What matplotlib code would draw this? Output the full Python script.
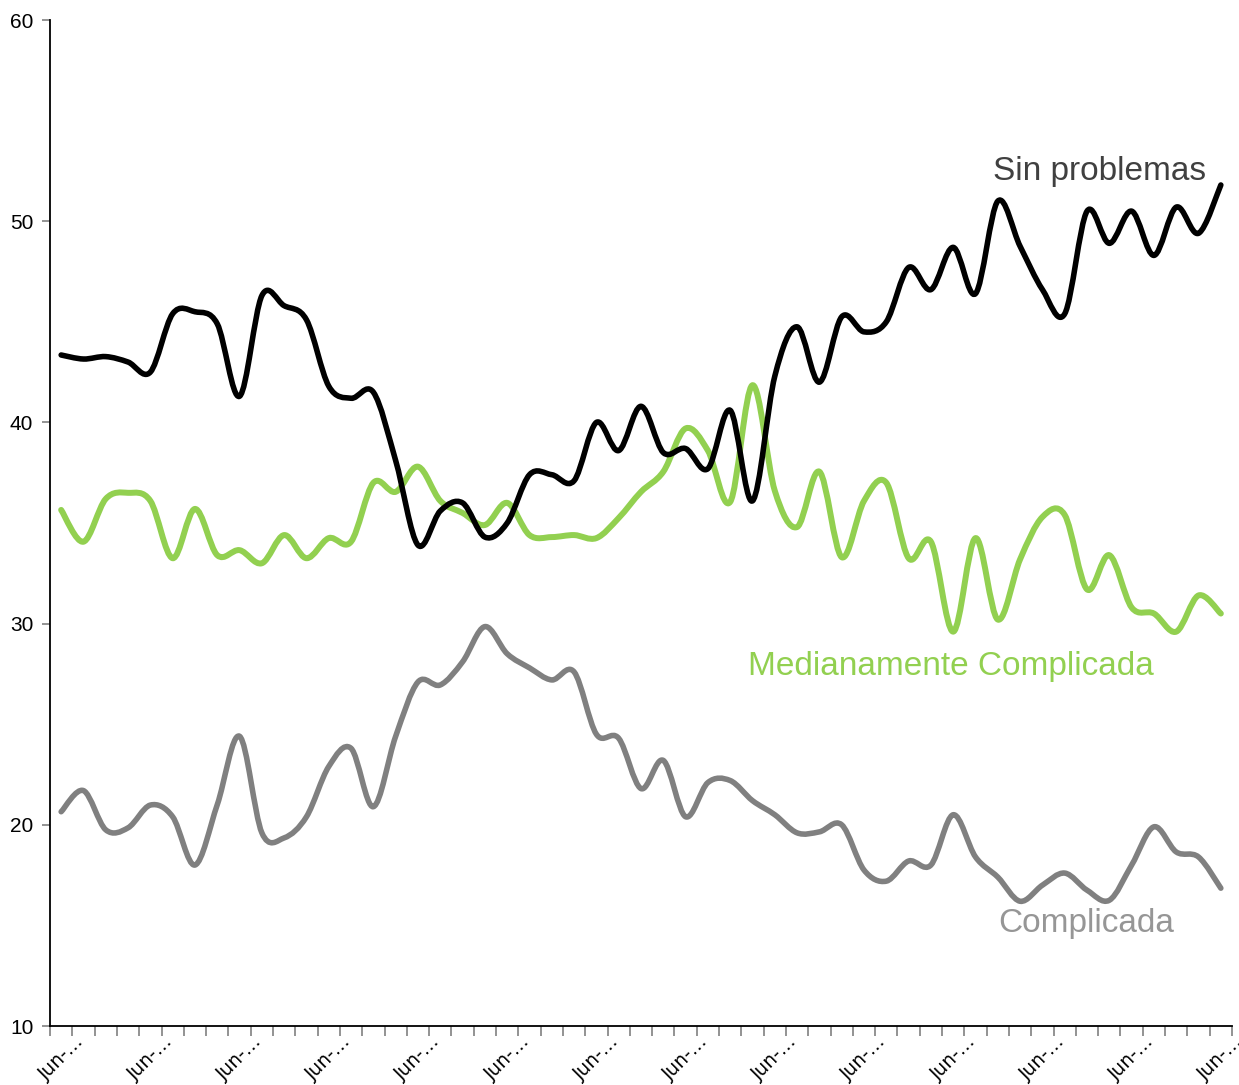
import matplotlib
matplotlib.use("Agg")
import matplotlib.pyplot as plt
from matplotlib.path import Path
from matplotlib.patches import PathPatch
from matplotlib.ticker import FixedLocator

plt.rcParams["font.family"] = ["Liberation Sans", "DejaVu Sans"]

# quarterly series, one label every 4 points
tick_labels = ["Jun-…"] * 14

sin_problemas = [43.35, 43.15, 43.27, 43.0, 42.5, 45.4, 45.5, 44.9, 41.3, 46.3,
                 45.8, 45.1, 41.8, 41.2, 41.5, 38.1, 33.9, 35.6, 36.0, 34.3,
                 35.0, 37.4, 37.4, 37.1, 40.0, 38.6, 40.8, 38.5, 38.7, 37.7,
                 40.6, 36.1, 42.3, 44.75, 42.0, 45.25, 44.5, 45.0, 47.7, 46.6,
                 48.7, 46.4, 51.0, 48.75, 46.6, 45.4, 50.5, 48.9, 50.5, 48.3,
                 50.7, 49.4, 51.8]

medianamente = [35.65, 34.07, 36.2, 36.5, 36.1, 33.25, 35.7, 33.4, 33.65, 33.0,
                34.4, 33.25, 34.25, 34.07, 37.0, 36.55, 37.8, 36.1, 35.5, 34.9,
                36.0, 34.4, 34.3, 34.4, 34.25, 35.25, 36.55, 37.55, 39.7, 38.6,
                36.05, 41.85, 36.6, 34.8, 37.55, 33.3, 36.1, 37.0, 33.25, 34.07,
                29.6, 34.25, 30.2, 33.2, 35.3, 35.4, 31.7, 33.4, 30.8, 30.5,
                29.6, 31.4, 30.5]

complicada = [20.65, 21.7, 19.75, 19.85, 20.98, 20.4, 18.0, 21.0, 24.4, 19.6,
              19.35, 20.4, 22.9, 23.8, 20.9, 24.4, 27.1, 26.95, 28.1, 29.85,
              28.5, 27.8, 27.2, 27.6, 24.5, 24.3, 21.8, 23.2, 20.4, 22.1,
              22.2, 21.2, 20.5, 19.6, 19.65, 20.0, 17.75, 17.2, 18.2, 18.0,
              20.5, 18.4, 17.4, 16.2, 17.0, 17.6, 16.75, 16.25, 18.0, 19.9,
              18.65, 18.4, 16.85]


def smooth_path(vals):
    # Excel-style smoothed line: cubic bezier through every point
    n = len(vals)
    pts = [(float(i), v) for i, v in enumerate(vals)]
    verts = [pts[0]]
    codes = [Path.MOVETO]
    for i in range(n - 1):
        p0 = pts[i - 1] if i > 0 else pts[i]
        p1 = pts[i]
        p2 = pts[i + 1]
        p3 = pts[i + 2] if i + 2 < n else pts[i + 1]
        c1 = (p1[0] + (p2[0] - p0[0]) / 6, p1[1] + (p2[1] - p0[1]) / 6)
        c2 = (p2[0] - (p3[0] - p1[0]) / 6, p2[1] - (p3[1] - p1[1]) / 6)
        verts += [c1, c2, p2]
        codes += [Path.CURVE4] * 3
    return Path(verts, codes)


fig = plt.figure(figsize=(12.39, 10.85), dpi=100)
ax = fig.add_axes([50 / 1239, 59 / 1085, 1182 / 1239, 1006 / 1085])

series = [
    (complicada, "#808080", 4.0),
    (medianamente, "#92D050", 4.3),
    (sin_problemas, "#000000", 4.0),
]
for vals, color, lw in series:
    ax.add_patch(PathPatch(smooth_path(vals), facecolor="none", edgecolor=color,
                           lw=lw, capstyle="round", joinstyle="round"))

n = len(sin_problemas)
ax.set_xlim(-0.5, n - 0.5)
ax.set_ylim(10, 60)
ax.set_yticks([10, 20, 30, 40, 50, 60])
ax.set_yticklabels(["10", "20", "30", "40", "50", "60"], fontsize=15)

ax.set_xticks(range(0, n, 4))
ax.set_xticklabels(tick_labels, rotation=45, ha="center", va="top",
                   fontsize=13.5, family="DejaVu Sans")
ax.xaxis.set_minor_locator(FixedLocator([k - 0.5 for k in range(n + 1)]))
ax.tick_params(axis="x", which="major", length=0, pad=4)
ax.tick_params(axis="x", which="minor", length=7, width=1.2, color="#808080",
               direction="out")
ax.tick_params(axis="y", length=6, width=1.2, color="#808080", pad=6)

for s in ["top", "right"]:
    ax.spines[s].set_visible(False)
for s in ["left", "bottom"]:
    ax.spines[s].set_linewidth(1.3)
    ax.spines[s].set_color("black")

ax.text(51.35, 52.05, "Sin problemas", color="#404040", fontsize=24,
        ha="right", va="baseline")
ax.text(30.8, 27.45, "Medianamente Complicada", color="#92D050", fontsize=24,
        ha="left", va="baseline")
ax.text(42.0, 14.67, "Complicada", color="#969696", fontsize=24,
        ha="left", va="baseline")

fig.savefig("out.png", dpi=100)
